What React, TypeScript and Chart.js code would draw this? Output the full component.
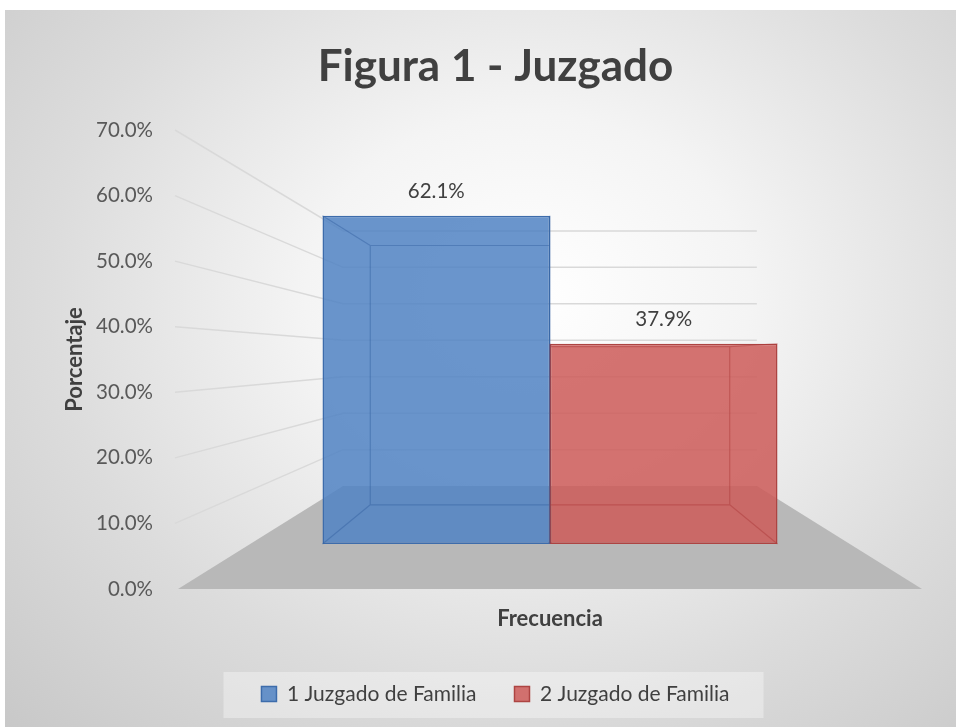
import React, { useEffect, useRef } from "react";
import { Chart, registerables } from "chart.js";

Chart.register(...registerables);

// ---------- data ----------
const categories = ["Frecuencia"];
const seriesNames = ["1 Juzgado de Familia", "2 Juzgado de Familia"];
const seriesValues = [62.1, 37.9];
const yTickValues = [0, 10, 20, 30, 40, 50, 60, 70];
const titleText = "Figura 1 - Juzgado";
const yTitleText = "Porcentaje";
const xTitleText = "Frecuencia";

// ---------- styles ----------
const seriesFill = ["rgba(80,130,195,0.85)", "rgba(205,90,88,0.85)"];
const seriesEdge = ["#3d6cab", "#ad4442"];
const seriesInner = ["rgba(50,95,160,0.45)", "rgba(170,55,55,0.45)"];
const FONT = "Lato, 'Open Sans', sans-serif";

// perspective of the 3-D look (fractions of the plot area)
const Y_MAX = yTickValues[yTickValues.length - 1];
const P_VP = 0.495; // vanishing point height within plot
const F_WALL = 0.556; // back wall depth factor
const F_BAR = 0.806; // bar front face depth factor
const F_BACK = 0.79; // bar back face relative to its front face
const barAxisMin = (Y_MAX * (F_BAR - 1) * (1 - P_VP)) / F_BAR;
const barAxisMax = Y_MAX * (1 - P_VP + P_VP / F_BAR);

const fmtPct = (v: number) => v.toFixed(1) + "%";

function projector(chart: any) {
  const a = chart.chartArea;
  const vx = (a.left + a.right) / 2;
  const vy = a.top + P_VP * (a.bottom - a.top);
  return (x: number, y: number, f: number) => [vx + f * (x - vx), vy + f * (y - vy)];
}

const scenePlugin = {
  id: "scene3d",
  beforeDraw(chart: any) {
    const lg = chart.legend;
    if (!lg || !lg.legendHitBoxes || !lg.legendHitBoxes.length) return;
    const hb = lg.legendHitBoxes;
    let l = Infinity, r = -Infinity;
    hb.forEach((h: any) => {
      l = Math.min(l, h.left);
      r = Math.max(r, h.left + h.width);
    });
    const cy = hb[0].top + hb[0].height / 2;
    const ctx = chart.ctx;
    ctx.save();
    ctx.fillStyle = "rgba(255,255,255,0.35)";
    ctx.fillRect(l - 38, cy - 22, r - l + 72, 46);
    ctx.restore();
  },
  beforeDatasetsDraw(chart: any) {
    const ctx = chart.ctx;
    const a = chart.chartArea;
    const ys = chart.scales.y;
    const pr = projector(chart);
    ctx.save();
    // floor
    const bl = pr(a.left, a.bottom, F_WALL);
    const br = pr(a.right, a.bottom, F_WALL);
    ctx.fillStyle = "#b8b8b8";
    ctx.beginPath();
    ctx.moveTo(a.left, a.bottom);
    ctx.lineTo(a.right, a.bottom);
    ctx.lineTo(br[0], br[1]);
    ctx.lineTo(bl[0], bl[1]);
    ctx.closePath();
    ctx.fill();
    // grid lines: side wall + back wall
    ctx.strokeStyle = "#d9d9d9";
    ctx.lineWidth = 1.5;
    yTickValues.forEach((t) => {
      if (t === 0) return;
      const yf = ys.getPixelForValue(t);
      const b0 = pr(a.left, yf, F_WALL);
      const b1 = pr(a.right, yf, F_WALL);
      ctx.beginPath();
      ctx.moveTo(a.left - 3, yf);
      ctx.lineTo(b0[0], b0[1]);
      ctx.lineTo(b1[0], b1[1]);
      ctx.stroke();
    });
    ctx.restore();
  },
  afterDatasetsDraw(chart: any) {
    const ctx = chart.ctx;
    const pr = projector(chart);
    ctx.save();
    chart.data.datasets.forEach((ds: any, di: number) => {
      const meta = chart.getDatasetMeta(di);
      meta.data.forEach((el: any, j: number) => {
        const { x, y, base, width } = el.getProps(["x", "y", "base", "width"], true);
        const l = x - width / 2, r = x + width / 2;
        const f = [
          [l, y],
          [r, y],
          [r, base],
          [l, base],
        ];
        const b = f.map((p) => pr(p[0], p[1], F_BACK));
        ctx.strokeStyle = seriesInner[di];
        ctx.lineWidth = 1.2;
        ctx.beginPath();
        ctx.moveTo(b[0][0], b[0][1]);
        for (let k = 1; k < 4; k++) ctx.lineTo(b[k][0], b[k][1]);
        ctx.closePath();
        for (let k = 0; k < 4; k++) {
          ctx.moveTo(f[k][0], f[k][1]);
          ctx.lineTo(b[k][0], b[k][1]);
        }
        ctx.stroke();
        // value label
        ctx.fillStyle = "#404040";
        ctx.font = `20.5px ${FONT}`;
        ctx.textAlign = "center";
        ctx.textBaseline = "middle";
        ctx.fillText(fmtPct(ds.data[j]), x, y - 24);
      });
    });
    ctx.restore();
  },
};

export default function App() {
  const ref = useRef<HTMLCanvasElement | null>(null);
  useEffect(() => {
    if (!ref.current) return;
    const chart = new Chart(ref.current, {
      type: "bar",
      data: {
        labels: categories,
        datasets: seriesNames.map((name, i) => ({
          label: name,
          data: [seriesValues[i]],
          backgroundColor: seriesFill[i],
          borderColor: seriesEdge[i],
          borderWidth: 1.5,
          borderSkipped: false,
          yAxisID: "yBar",
          categoryPercentage: 0.6116,
          barPercentage: 1.0,
        })),
      },
      options: {
        responsive: false,
        animation: false,
        layout: { padding: { left: 64, right: 34, top: 0, bottom: 12.5 } },
        scales: {
          x: {
            type: "category",
            grid: { display: false, drawTicks: false },
            border: { display: false },
            ticks: { display: false },
            title: {
              display: true,
              text: xTitleText,
              color: "#404040",
              font: { family: FONT, size: 22, weight: "bold" },
              padding: { top: 0, bottom: 13.3 },
            },
            afterFit: (s: any) => {
              s.height = 56.5;
            },
          },
          y: {
            type: "linear",
            position: "left",
            min: 0,
            max: Y_MAX,
            grid: { display: false, drawTicks: false },
            border: { display: false },
            ticks: {
              padding: 25,
              color: "#595959",
              font: { family: FONT, size: 20.5 },
              callback: (v: any) => fmtPct(Number(v)),
            },
            afterBuildTicks: (s: any) => {
              s.ticks = yTickValues.map((v) => ({ value: v }));
            },
            title: {
              display: true,
              text: yTitleText,
              color: "#404040",
              font: { family: FONT, size: 22, weight: "bold" },
              padding: { top: -7, bottom: 0 },
            },
            afterFit: (s: any) => {
              s.width = 109;
            },
          },
          yBar: {
            type: "linear",
            display: false,
            min: barAxisMin,
            max: barAxisMax,
          },
        },
        plugins: {
          title: {
            display: true,
            text: titleText,
            color: "#404040",
            font: { family: FONT, size: 44, weight: "bold" },
            padding: { top: 30.6, bottom: 36.6 },
          },
          legend: {
            display: true,
            position: "bottom",
            labels: {
              boxWidth: 15,
              boxHeight: 15,
              padding: 38,
              color: "#404040",
              font: { family: FONT, size: 21 },
            },
          },
          tooltip: { enabled: false },
        },
      },
      plugins: [scenePlugin],
    } as any);
    return () => chart.destroy();
  }, []);
  return (
    <div
      style={{
        position: "fixed",
        left: 5,
        top: 10,
        width: 951,
        height: 717,
        background:
          "radial-gradient(ellipse farthest-corner at 55% 40%, #ffffff 0%, #f4f4f4 30%, #dcdcdc 65%, #c8c8c8 100%)",
      }}
    >
      <canvas ref={ref} width={951} height={717} style={{ display: "block" }} />
    </div>
  );
}
